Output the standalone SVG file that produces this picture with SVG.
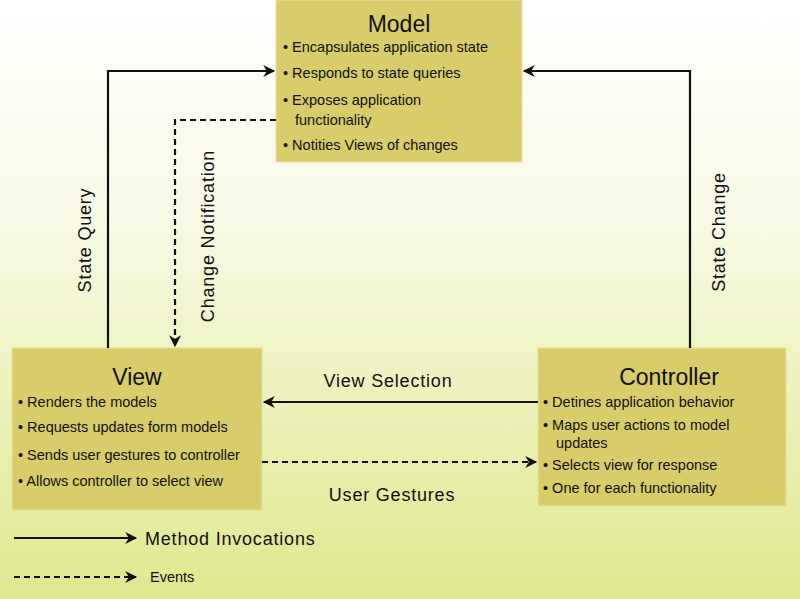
<svg xmlns="http://www.w3.org/2000/svg" width="800" height="599" viewBox="0 0 800 599">
<defs>
<linearGradient id="bg" x1="0" y1="0" x2="0" y2="1"><stop offset="0" stop-color="#ffffff"/><stop offset="0.35" stop-color="#f8fae6"/><stop offset="1" stop-color="#dfe88e"/></linearGradient>
<marker id="ah" viewBox="0 0 10 10" refX="9" refY="5" markerWidth="13" markerHeight="12" markerUnits="userSpaceOnUse" orient="auto"><path d="M0,0 L10,5 L0,10 L3,5 z" fill="#111"/></marker>
<style>
.box{fill:#d9cc6b;stroke:#e8e0a0;stroke-width:1}
.t{font-family:"Liberation Sans",Arial,sans-serif;fill:#111}
.title{font-size:23px;text-anchor:middle}
.b{font-size:14.5px}
.lbl{font-size:18px;letter-spacing:0.8px}
.ln{fill:none;stroke:#111;stroke-width:2.2}
.d{stroke-dasharray:6,4}
</style>
</defs>
<rect width="800" height="599" fill="url(#bg)"/>
<g id="model">
<rect class="box" x="276" y="0" width="246" height="162"/>
<text class="t title" x="399" y="32">Model</text>
<text class="t b" x="283" y="52">• Encapsulates application state</text>
<text class="t b" x="283" y="78">• Responds to state queries</text>
<text class="t b" x="283" y="105">• Exposes application</text>
<text class="t b" x="295" y="125">functionality</text>
<text class="t b" x="283" y="150">• Notities Views of changes</text>
</g>
<g id="view">
<rect class="box" x="12" y="348" width="250" height="162"/>
<text class="t title" x="137" y="385">View</text>
<text class="t b" x="18" y="407">• Renders the models</text>
<text class="t b" x="18" y="432">• Requests updates form models</text>
<text class="t b" x="18" y="460">• Sends user gestures to controller</text>
<text class="t b" x="18" y="486">• Allows controller to select view</text>
</g>
<g id="controller">
<rect class="box" x="538" y="348" width="248" height="158"/>
<text class="t title" x="669" y="385">Controller</text>
<text class="t b" x="543" y="407">• Detines application behavior</text>
<text class="t b" x="543" y="430">• Maps user actions to model</text>
<text class="t b" x="556" y="448">updates</text>
<text class="t b" x="543" y="470">• Selects view for response</text>
<text class="t b" x="543" y="493">• One for each functionality</text>
</g>
<g id="connectors">
<path class="ln" d="M108,348 V71 H274" marker-end="url(#ah)"/>
<path class="ln d" d="M276,120 H175 V346" marker-end="url(#ah)"/>
<path class="ln" d="M690,348 V71 H524" marker-end="url(#ah)"/>
<path class="ln" d="M538,402 H264" marker-end="url(#ah)"/>
<path class="ln d" d="M262,462 H536" marker-end="url(#ah)"/>
<text class="t lbl" transform="translate(91,240) rotate(-90)" text-anchor="middle">State Query</text>
<text class="t lbl" transform="translate(214,236) rotate(-90)" text-anchor="middle">Change Notification</text>
<text class="t lbl" transform="translate(725,232) rotate(-90)" text-anchor="middle">State Change</text>
<text class="t lbl" x="388" y="387" text-anchor="middle">View Selection</text>
<text class="t lbl" x="392" y="501" text-anchor="middle">User Gestures</text>
</g>
<g id="legend">
<path class="ln" d="M14,538 H136" marker-end="url(#ah)"/>
<text class="t lbl" x="145" y="545">Method Invocations</text>
<path class="ln d" d="M14,577 H136" marker-end="url(#ah)"/>
<text class="t" x="150" y="582" font-size="14.5">Events</text>
</g>
</svg>
